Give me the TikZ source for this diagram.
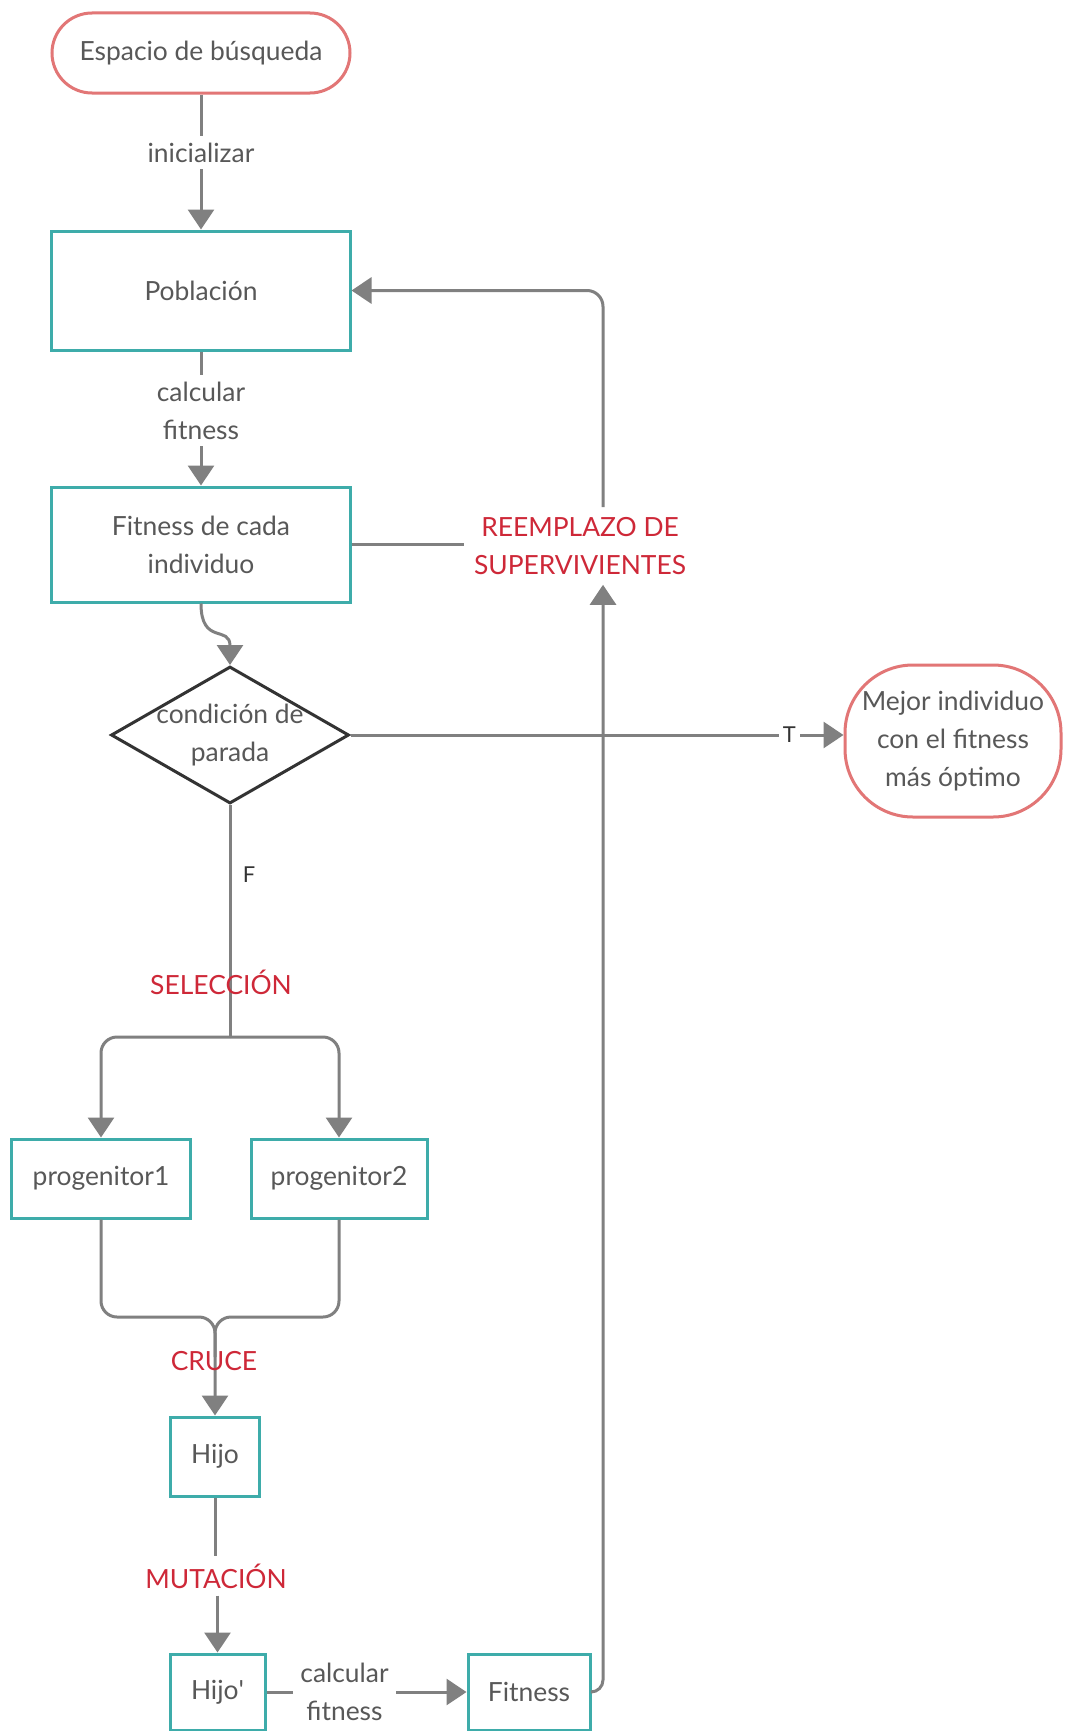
\documentclass[tikz,border=0pt]{standalone}
\usepackage{fontspec}
\setmainfont{Lato}
\usetikzlibrary{arrows.meta,shapes.geometric,calc}
\definecolor{tealc}{RGB}{62,172,170}
\definecolor{pinkc}{RGB}{226,118,118}
\definecolor{redc}{RGB}{206,40,56}
\definecolor{lineg}{RGB}{128,128,128}
\definecolor{txtg}{RGB}{88,88,88}
\definecolor{darkc}{RGB}{51,51,51}
\begin{document}
\begin{tikzpicture}[x=1bp,y=-1bp,
  every node/.style={font=\fontsize{26.5}{38}\selectfont, text=txtg},
  box/.style={draw=tealc, line width=3bp, align=center, inner sep=0pt},
  term/.style={draw=pinkc, line width=3bp, align=center, inner sep=0pt},
  conn/.style={draw=lineg, line width=3bp},
  arr/.style={conn, -{Triangle[width=26bp,length=20bp]}},
  lbl/.style={fill=white, align=center, inner sep=7bp},
  redlbl/.style={text=redc, align=center, inner sep=4bp},
  tf/.style={font=\fontsize{22}{26}\selectfont, text=darkc}]
\fill[white] (0,0) rectangle (1064,1731);
\useasboundingbox (0,0) rectangle (1064,1731);

% nodes
\node[term, rounded corners=40bp, minimum width=298bp, minimum height=80bp] (esp) at (201,53) {Espacio de búsqueda};
\node[box, minimum width=298bp, minimum height=119bp] (pob) at (201,290.5) {Población};
\node[box, minimum width=298bp, minimum height=115bp] (fit) at (201,544.5) {Fitness de cada\\individuo};
\node[redlbl, inner sep=10bp] (reemp) at (580,546) {REEMPLAZO DE\\SUPERVIVIENTES};
\node[draw=darkc, line width=3bp, diamond, minimum width=238bp, minimum height=137bp, inner sep=0pt] (cond) at (230,735) {};
\node[align=center] (condt) at (cond) {condición de\\parada};
\node[term, rounded corners=68bp, minimum width=216bp, minimum height=152bp] (best) at (953,741) {Mejor individuo\\con el fitness\\más óptimo};
\coordinate (spl) at (230,1037);
\node[box, minimum width=178bp, minimum height=79bp] (p1) at (101,1178.5) {progenitor1};
\node[box, minimum width=176bp, minimum height=79bp] (p2) at (339,1178.5) {progenitor2};
\coordinate (mrg) at (215,1317);
\node[box, minimum width=89bp, minimum height=79bp] (hijo) at (215,1456.5) {Hijo};
\node[box, minimum width=95bp, minimum height=76bp] (hijo2) at (217.5,1692) {Hijo\textquotesingle};
\node[box, minimum width=122bp, minimum height=76bp] (fitb) at (529,1692) {Fitness};
\node[text=redc, fill=white, inner sep=7bp] (mut) at (216,1576) {MUTACIÓN};

% connectors
\draw[arr] (esp.south) -- node[lbl, pos=0.43] {inicializar} (pob.north);
\draw[arr] (pob.south) -- node[lbl, pos=0.44] {calcular\\fitness} (fit.north);
\draw[arr] (fit.south) .. controls +(0,42) and +(0,-40) .. (cond.north);
\draw[conn] (fit.east) -- (fit.east -| reemp.west);
\draw[arr, rounded corners=16bp] ([xshift=23bp]reemp.north) |- (pob.east);
\draw[arr, rounded corners=12bp] (fitb.east) -| ([xshift=23bp]reemp.south);
\draw[arr] (cond.east) -- node[pos=0.89, fill=white, inner sep=4bp, tf] {T} (cond.east -| best.west);
\draw[conn] (cond.south) -- node[pos=0.3, right=8bp, tf] {F} (spl);
\draw[arr, rounded corners=16bp] (spl) -| (p1.north);
\draw[arr, rounded corners=16bp] (spl) -| (p2.north);
\node[redlbl] (sel) at (221,982) {SELECCIÓN};
\draw[arr, rounded corners=16bp] (p1.south) |- (mrg) -- (hijo.north);
\draw[conn, rounded corners=16bp] (p2.south) |- (mrg) -- ($(mrg)+(0,40)$);
\node[redlbl] (cruce) at (214,1361) {CRUCE};
\draw[conn] (hijo.south) -- (hijo.south |- mut.north);
\draw[arr] (mut.south -| hijo2.north) -- (hijo2.north);
\draw[arr] (hijo2.east) -- node[lbl, pos=0.39] {calcular\\fitness} (fitb.west);
\end{tikzpicture}
\end{document}
